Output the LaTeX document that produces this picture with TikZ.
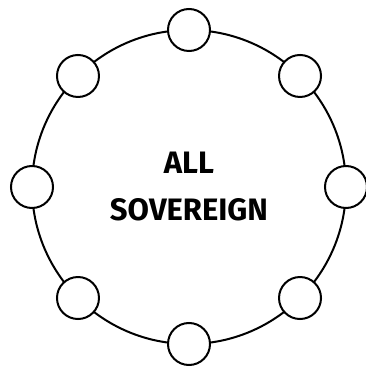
\documentclass[tikz,border=0pt]{standalone}
\usepackage{fontspec}
\setmainfont{Fira Sans}
\usetikzlibrary{positioning}
\tikzset{
  sv/.style={line width=2pt, x=1pt, y=1pt},
  ring/.style={draw=black, circle, inner sep=0pt, outer sep=0pt, minimum size=314pt},
  member/.style={draw=black, fill=white, circle, inner sep=0pt, outer sep=0pt, minimum size=42pt},
  title/.style={font=\fontsize{31}{47}\selectfont\bfseries, align=center, inner sep=0pt},
}
\begin{document}
\begin{tikzpicture}[sv]
\useasboundingbox (0,0) rectangle (365,367);
% grosser Kreis
\node[ring] (ring) at (189,180) {};
% acht kleine Kreise auf dem Rand
\node[member] (mN)  at (ring.north)      {};
\node[member] (mNE) at (ring.north east) {};
\node[member] (mE)  at (ring.east)       {};
\node[member] (mSE) at (ring.south east) {};
\node[member] (mS)  at (ring.south)      {};
\node[member] (mSW) at (ring.south west) {};
\node[member] (mW)  at (ring.west)       {};
\node[member] (mNW) at (ring.north west) {};
% Beschriftung
\node[title] (label) at (ring.center) {ALL\\SOVEREIGN};
\end{tikzpicture}
\end{document}
